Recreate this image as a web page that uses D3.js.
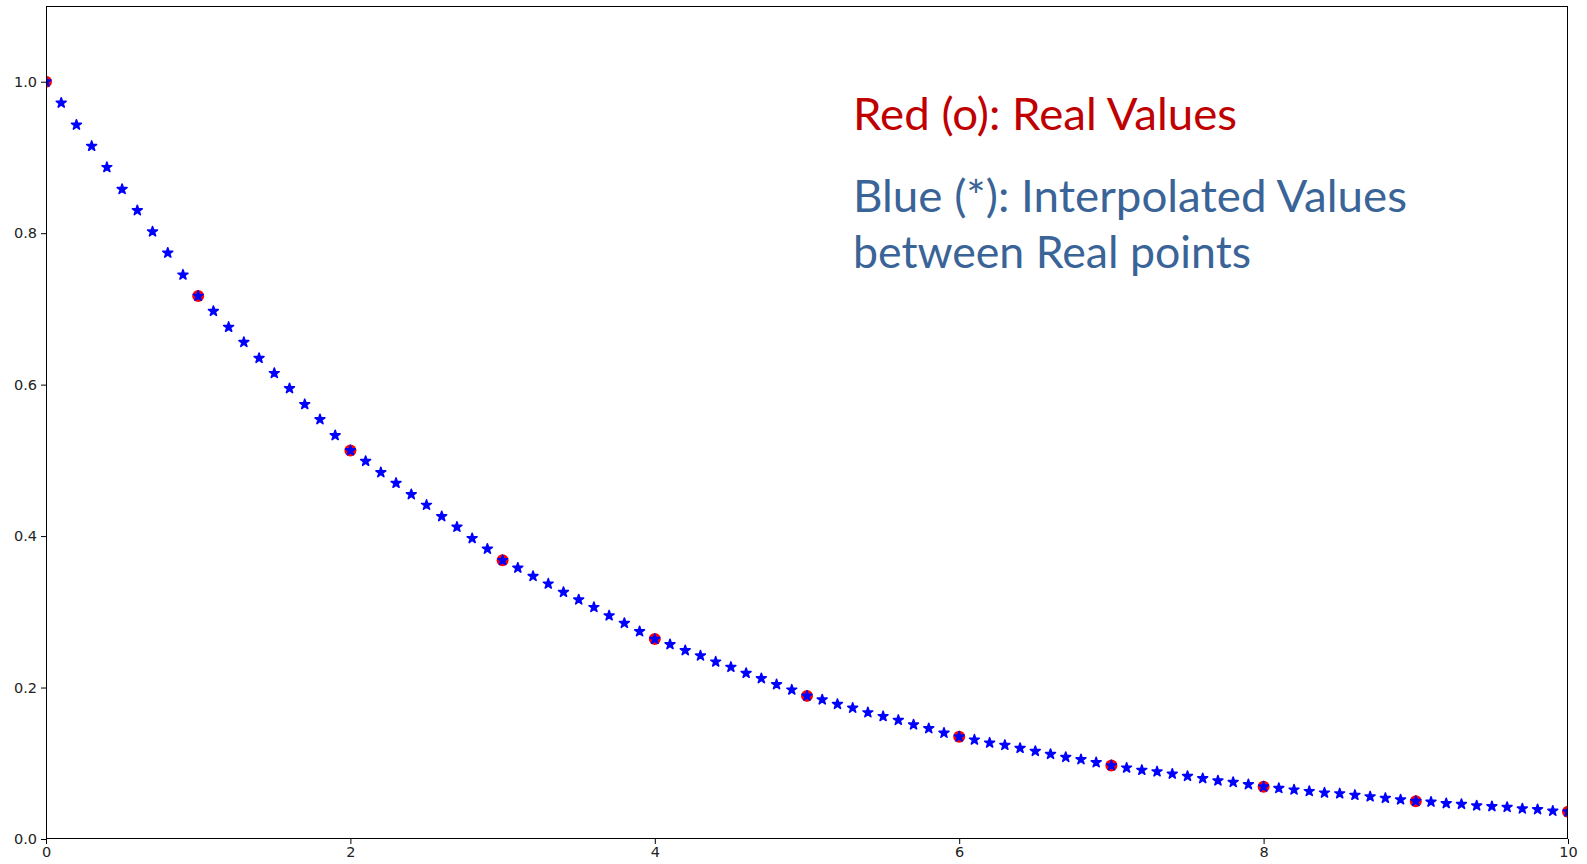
<!DOCTYPE html>
<html>
<head>
<meta charset="utf-8">
<script src="https://cdn.jsdelivr.net/npm/d3@7"></script>
<style>
  html, body { margin: 0; padding: 0; background: #fff; }
  svg { display: block; }
  .tick text { font-family: "DejaVu Sans", sans-serif; font-size: 14.5px; fill: #222; }
  .note { font-family: "Lato", "Open Sans", sans-serif; }
</style>
</head>
<body>
<div id="chart"></div>
<script>
// Real values (red circles)
const realX = [0, 1, 2, 3, 4, 5, 6, 7, 8, 9, 10]
const realY = [1.000, 0.717, 0.513, 0.368, 0.264, 0.189, 0.135, 0.097, 0.069, 0.050, 0.036]

// Interpolated values (blue stars)
const interpX = [
  0.0, 0.1, 0.2, 0.3, 0.4, 0.5, 0.6, 0.7, 0.8, 0.9,
  1.0, 1.1, 1.2, 1.3, 1.4, 1.5, 1.6, 1.7, 1.8, 1.9,
  2.0, 2.1, 2.2, 2.3, 2.4, 2.5, 2.6, 2.7, 2.8, 2.9,
  3.0, 3.1, 3.2, 3.3, 3.4, 3.5, 3.6, 3.7, 3.8, 3.9,
  4.0, 4.1, 4.2, 4.3, 4.4, 4.5, 4.6, 4.7, 4.8, 4.9,
  5.0, 5.1, 5.2, 5.3, 5.4, 5.5, 5.6, 5.7, 5.8, 5.9,
  6.0, 6.1, 6.2, 6.3, 6.4, 6.5, 6.6, 6.7, 6.8, 6.9,
  7.0, 7.1, 7.2, 7.3, 7.4, 7.5, 7.6, 7.7, 7.8, 7.9,
  8.0, 8.1, 8.2, 8.3, 8.4, 8.5, 8.6, 8.7, 8.8, 8.9,
  9.0, 9.1, 9.2, 9.3, 9.4, 9.5, 9.6, 9.7, 9.8, 9.9,
  10.0
]
const interpY = [
  1.000, 0.972, 0.943, 0.915, 0.887, 0.858, 0.830, 0.802, 0.774, 0.745,
  0.717, 0.697, 0.676, 0.656, 0.635, 0.615, 0.595, 0.574, 0.554, 0.533,
  0.513, 0.499, 0.484, 0.470, 0.455, 0.441, 0.426, 0.412, 0.397, 0.383,
  0.368, 0.358, 0.347, 0.337, 0.326, 0.316, 0.306, 0.295, 0.285, 0.274,
  0.264, 0.257, 0.249, 0.242, 0.234, 0.227, 0.219, 0.212, 0.204, 0.197,
  0.189, 0.184, 0.178, 0.173, 0.167, 0.162, 0.157, 0.151, 0.146, 0.140,
  0.135, 0.131, 0.127, 0.124, 0.120, 0.116, 0.112, 0.108, 0.105, 0.101,
  0.097, 0.094, 0.091, 0.089, 0.086, 0.083, 0.080, 0.077, 0.075, 0.072,
  0.069, 0.067, 0.065, 0.063, 0.061, 0.060, 0.058, 0.056, 0.054, 0.052,
  0.050, 0.049, 0.047, 0.046, 0.044, 0.043, 0.042, 0.040, 0.039, 0.037,
  0.036
]

const xTicks = [0, 2, 4, 6, 8, 10]
const yTicks = [0.0, 0.2, 0.4, 0.6, 0.8, 1.0]

const noteLines = [
  { text: "Red (o): Real Values", color: "#c00000", x: 853, y: 130, w: 384 },
  { text: "Blue (*): Interpolated Values", color: "#3a6497", x: 853, y: 212, w: 554 },
  { text: "between Real points", color: "#3a6497", x: 853, y: 268, w: 398 }
]

const width = 1587
const height = 864
const margin = { top: 6, right: 19, bottom: 25, left: 46 }

const svg = d3.select("#chart")
  .append("svg")
  .attr("width", width)
  .attr("height", height)

const x = d3.scaleLinear()
  .domain([0, 10])
  .range([margin.left, width - margin.right])

const y = d3.scaleLinear()
  .domain([0, 1.1])
  .range([height - margin.bottom, margin.top])

// clip markers to the axes box
svg.append("clipPath")
  .attr("id", "plot-clip")
  .append("rect")
  .attr("x", margin.left)
  .attr("y", margin.top)
  .attr("width", width - margin.left - margin.right)
  .attr("height", height - margin.top - margin.bottom)

const points = svg.append("g").attr("clip-path", "url(#plot-clip)")

points.selectAll(".real")
  .data(realX.map((d, i) => [d, realY[i]]))
  .enter()
  .append("circle")
  .attr("class", "real")
  .attr("cx", d => x(d[0]))
  .attr("cy", d => y(d[1]))
  .attr("r", 6)
  .attr("fill", "#ff0000")

const star = d3.symbol().type(d3.symbolStar).size(30)

points.selectAll(".interp")
  .data(interpX.map((d, i) => [d, interpY[i]]))
  .enter()
  .append("path")
  .attr("class", "interp")
  .attr("d", star)
  .attr("transform", d => `translate(${x(d[0])},${y(d[1])})`)
  .attr("fill", "#0000ff")
  .attr("stroke", "#0000ff")
  .attr("stroke-width", 1.6)
  .attr("stroke-linejoin", "round")

// Axes
svg.append("g")
  .attr("transform", `translate(0,${height - margin.bottom})`)
  .call(d3.axisBottom(x).tickValues(xTicks).tickFormat(d3.format("d")).tickSize(5).tickPadding(3))

svg.append("g")
  .attr("transform", `translate(${margin.left},0)`)
  .call(d3.axisLeft(y).tickValues(yTicks).tickFormat(d3.format(".1f")).tickSize(5).tickPadding(4))

svg.selectAll(".domain").remove()
svg.selectAll(".tick line").attr("stroke", "#000").attr("stroke-width", 1)

// Frame
svg.append("rect")
  .attr("x", margin.left + 0.5)
  .attr("y", margin.top + 0.5)
  .attr("width", width - margin.left - margin.right - 1)
  .attr("height", height - margin.top - margin.bottom - 1)
  .attr("fill", "none")
  .attr("stroke", "#000")
  .attr("stroke-width", 1)

// Annotation text
svg.selectAll(".note")
  .data(noteLines)
  .enter()
  .append("text")
  .attr("class", "note")
  .attr("x", d => d.x)
  .attr("y", d => d.y)
  .attr("fill", d => d.color)
  .attr("font-size", 45)
  .attr("textLength", d => d.w)
  .attr("lengthAdjust", "spacingAndGlyphs")
  .text(d => d.text)
</script>
</body>
</html>
